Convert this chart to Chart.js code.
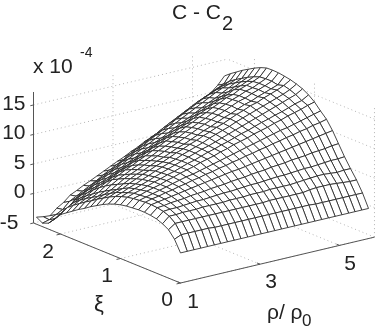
<!DOCTYPE html>
<html><head><meta charset="utf-8">
<style>html,body{margin:0;padding:0;background:#fff}canvas{display:block}</style>
<script src="https://cdn.jsdelivr.net/npm/chart.js@4"></script></head>
<body><canvas id="c" width="382" height="330"></canvas>
<script>
const rhoValues=[1,1.17,1.34,1.51,1.68,1.85,2.01,2.18,2.35,2.52,2.69,2.86,3.03,3.2,3.37,3.54,3.7,3.87,4.04,4.21,4.38,4.55,4.72,4.89,5.06,5.23,5.39,5.56,5.73];
const xiValues=[0,.1,.2,.3,.4,.5,.6,.7,.8,.9,1,1.1,1.2,1.3,1.4,1.5,1.6,1.7,1.8,1.9,2,2.1,2.2,2.3,2.4];
const zRows=[
[.1,.1,.1,.1,.1,.1,.1,.1,.1,.1,.1,.1,.1,.1,.1,.1,.1,.1,.1,.1,.1,.1,.1,.1,.1,.1,.1,.1,.1],
[2,2.5,2.5,2.5,2.5,2.5,2.4,2.4,2.4,2.4,2.4,2.4,2.4,2.4,2.4,2.4,2.4,2.4,2.4,2.4,2.4,2.3,2.3,2.3,2.3,2.3,2.3,2.3,2.3],
[3.2,4,4,4,4,4,4,4,4,4,4,4,4,4,4,4.1,4.1,4.1,4.1,4.1,4.1,4.3,4.4,4.4,4.4,4.3,4.2,4.1,4.1],
[3.8,4.8,4.8,4.9,4.9,4.9,5,5,5,5,5.1,5.1,5.1,5.2,5.2,5.2,5.3,5.3,5.3,5.3,5.4,5.5,5.6,5.7,5.7,5.6,5.5,5.6,5.6],
[4.2,5.2,5.3,5.3,5.4,5.5,5.6,5.6,5.7,5.8,5.9,5.9,6,6.1,6.2,6.2,6.3,6.4,6.5,6.5,6.6,6.7,6.8,6.8,6.9,7,7.1,7.1,7.2],
[4.4,5.4,5.5,5.7,5.8,5.9,6.1,6.2,6.3,6.5,6.6,6.7,6.9,7,7.1,7.3,7.4,7.5,7.7,7.8,7.9,8.1,8.2,8.3,8.5,8.6,8.7,8.9,9],
[4.5,5.5,5.7,5.9,6.1,6.3,6.5,6.7,6.9,7.1,7.3,7.5,7.7,7.9,8,8.2,8.4,8.6,8.8,9,9.2,9.4,9.6,9.8,10,10.2,10.4,10.6,10.8],
[4.5,5.5,5.8,6,6.3,6.5,6.8,7,7.3,7.5,7.8,8,8.3,8.5,8.8,9,9.3,9.5,9.8,10,10.3,10.5,10.8,11,11.3,11.5,11.8,12,12.3],
[4.4,5.4,5.7,6,6.3,6.6,6.9,7.2,7.5,7.7,8,8.3,8.6,8.9,9.2,9.5,9.8,10.1,10.4,10.7,11,11.3,11.6,11.8,12.1,12.4,12.7,13,13.3],
[4.3,5.3,5.6,6,6.3,6.6,7,7.3,7.7,8,8.3,8.7,9,9.3,9.7,10,10.4,10.7,11,11.4,11.7,12,12.4,12.7,13.1,13.4,13.7,14.1,14.4],
[4.1,5.1,5.5,5.8,6.2,6.6,6.9,7.3,7.6,8,8.4,8.7,9.1,9.5,9.8,10.2,10.5,10.9,11.3,11.6,12,12.4,12.7,13.1,13.4,13.8,14.2,14.5,15.2],
[3.8,4.8,5.2,5.6,6,6.4,6.8,7.2,7.6,8,8.4,8.8,9.2,9.6,9.9,10.3,10.7,11.1,11.5,11.9,12.3,12.7,13.1,13.5,13.9,14.3,14.7,15.1,15.8],
[3.4,4.4,4.8,5.3,5.7,6.2,6.6,7.1,7.5,7.9,8.3,8.8,9.2,9.6,10,10.5,10.9,11.3,11.7,12.2,12.6,13,13.4,13.8,14.2,14.6,15,15.5,16.2],
[2.9,3.9,4.4,4.8,5.4,5.9,6.4,6.8,7.3,7.7,8.2,8.7,9.1,9.6,10,10.5,10.9,11.4,11.8,12.3,12.8,13.2,13.7,14,14.5,14.9,15.3,15.8,16.5],
[2.3,3.3,3.8,4.2,4.9,5.5,6,6.4,6.9,7.4,7.8,8.3,8.8,9.2,9.7,10.2,10.7,11.1,11.6,12.1,12.5,13,13.5,13.8,14.3,14.7,15.1,15.5,16.7],
[1.7,2.7,3.2,3.7,4.4,5.1,5.6,6.1,6.6,7.1,7.6,8.1,8.6,9.1,9.6,10.1,10.6,11.1,11.6,12.1,12.6,13.1,13.6,13.9,14.4,14.8,15.2,15.7,16.85],
[1,2,2.5,3.1,3.9,4.6,5.1,5.7,6.2,6.7,7.2,7.8,8.3,8.8,9.3,9.9,10.4,10.9,11.4,12,12.5,13,13.5,13.9,14.4,14.7,15.2,15.7,16.9],
[.4,1.4,1.9,2.5,3.3,4.1,4.6,5.2,5.7,6.3,6.8,7.4,7.9,8.5,9,9.5,10.1,10.6,11.2,11.7,12.3,12.8,13.4,13.7,14.3,14.7,15.1,15.6,16.85],
[-.3,.7,1.3,1.8,2.6,3.25,3.85,4.45,4.95,5.55,6.05,6.65,7.25,7.75,8.35,8.85,9.45,9.95,10.55,11.15,11.65,12.25,12.75,13.2,13.8,14.2,14.7,15.2,16.5],
[-1,0,.6,1.1,1.8,2.4,2.9,3.5,4.1,4.6,5.2,5.8,6.3,6.9,7.5,8,8.6,9.2,9.7,10.3,10.9,11.4,12,12.5,13,13.6,14.2,14.7,16],
[-1.7,-.8,-.2,.3,.9,1.5,2.1,2.6,3.2,3.8,4.4,4.9,5.5,6.1,6.7,7.2,7.8,8.4,9,9.5,10.1,10.7,11.3,11.8,12.4,13,13.6,14.1,15.4],
[-2.9,-2.1,-1.5,-.5,.1,.7,1.3,1.9,2.5,3.1,3.7,4.3,4.9,5.5,6.1,6.7,7.3,7.9,8.5,9.1,9.7,10.3,10.9,11.5,12.1,12.6,13,13.5,14.8],
[-4,-3.5,-2.9,-2.2,-.9,-.3,.3,1,1.6,2.2,2.8,3.5,4.1,4.7,5.3,6,6.6,7.2,7.8,8.5,9.1,9.7,10.3,10.9,11.4,11.9,12.3,12.8,14.1],
[-4.4,-4.1,-3.5,-2.9,-1.8,-1.2,-.6,0,.6,1.3,1.9,2.5,3.1,3.8,4.4,5,5.6,6.2,6.9,7.5,8.1,8.7,9.3,9.9,10.4,10.9,11.4,11.9,13.4],
[-3.8,-4,-4.1,-3.1,-2.4,-1.4,-.9,-.3,.2,.75,1.3,1.85,2.4,2.9,3.5,4,4.6,5.1,5.6,6.1,6.55,7.05,7.5,8,8.7,9.5,10.3,11.3,12.6]
];
const zTicks=[-5,0,5,10,15];
const xiTicks=[0,1,2];
const rhoTicks=[1,3,5];
const rhoRange=[1,5.88], xiRange=[0,2.45], zRange=[-5,17.2];

const project=(rho,xi,z)=>({
  x:180.5+39.75*(rho-1)-60*xi,
  y:283-9.4*(rho-1)-24.5*xi-5.9*(z+5)
});
const base={type:'scatter',showLine:true,pointRadius:0,pointHoverRadius:0,clip:false,tension:0};
const axisStyle={...base,borderColor:'#555',borderWidth:1,fill:false};
const gridStyle={...base,borderColor:'#b4b4b4',borderWidth:1,borderDash:[1,3],fill:false};
const meshStyle={...base,borderColor:'#262626',borderWidth:.85,backgroundColor:'#fff',fill:'shape'};
const ds=[];
const seg=(st,a,b)=>ds.push({...st,data:[project(...a),project(...b)]});
const [r0,r1]=rhoRange,[x0,x1]=xiRange,[zb,zt]=zRange;
seg(axisStyle,[r0,x1,zb],[r0,x1,zt]);
seg(axisStyle,[r0,x1,zb],[r0,x0,zb]);
seg(axisStyle,[r0,x0,zb],[r1,x0,zb]);
zTicks.forEach(z=>seg(axisStyle,[r0,x1,z],[r0-.08,x1,z]));
xiTicks.forEach(x=>seg(axisStyle,[r0,x,zb],[r0-.1,x,zb]));
rhoTicks.forEach(r=>seg(axisStyle,[r,x0,zb],[r,x0+.05,zb]));
for(let j=0;j<xiValues.length-1;j++)for(let i=0;i<rhoValues.length-1;i++){
  const p=(a,b)=>project(rhoValues[a],xiValues[b],zRows[b][a]);
  ds.push({...meshStyle,data:[p(i,j),p(i+1,j),p(i+1,j+1),p(i,j+1),p(i,j)]});
}
zTicks.forEach(z=>{seg(gridStyle,[r0,x1,z],[r1,x1,z]);seg(gridStyle,[r1,x0,z],[r1,x1,z]);});
rhoTicks.forEach(r=>{seg(gridStyle,[r,x0,zb],[r,x1,zb]);seg(gridStyle,[r,x1,zb],[r,x1,zt]);});
xiTicks.forEach(x=>{seg(gridStyle,[r0,x,zb],[r1,x,zb]);seg(gridStyle,[r1,x,zb],[r1,x,zt]);});

const F='Liberation Sans, Arial, sans-serif';
const labels=[
 {t:'C - C',x:172,y:13,s:21,a:'left'},{t:'2',x:222,y:24,s:20,a:'left'},
 {t:'x 10',x:33,y:67,s:21,a:'left'},{t:'-4',x:80,y:53,s:14,a:'left'},
 {t:'15',x:25.5,y:104,s:21,a:'right'},{t:'10',x:25.5,y:133,s:21,a:'right'},{t:'5',x:25.5,y:163,s:21,a:'right'},
 {t:'0',x:25.5,y:192,s:21,a:'right'},{t:'-5',x:18.5,y:223,s:21,a:'right'},
 {t:'2',x:48,y:252,s:21,a:'center'},{t:'1',x:107,y:276,s:21,a:'center'},{t:'0',x:167,y:300,s:21,a:'center'},
 {t:'ξ',x:99,y:305,s:22,a:'center'},
 {t:'1',x:193,y:302,s:21,a:'center'},{t:'3',x:271,y:282,s:21,a:'center'},{t:'5',x:350,y:264,s:21,a:'center'},
 {t:'ρ/ ρ',x:267,y:313,s:21,a:'left'},{t:'0',x:302,y:321,s:17,a:'left'}
];
const textPlugin={id:'texts',afterDraw(c){
  const g=c.ctx,sx=c.scales.x,sy=c.scales.y;
  g.save();g.fillStyle='#222';g.textBaseline='middle';
  labels.forEach(l=>{g.font=l.s+'px '+F;g.textAlign=l.a;g.fillText(l.t,sx.getPixelForValue(l.x),sy.getPixelForValue(l.y));});
  g.restore();
}};
new Chart(document.getElementById('c'),{
  type:'scatter',data:{datasets:ds},plugins:[textPlugin],
  options:{responsive:false,animation:false,devicePixelRatio:1,events:[],
    layout:{padding:0},
    plugins:{legend:{display:false},tooltip:{enabled:false},title:{display:false}},
    scales:{x:{type:'linear',display:false,min:0,max:382},y:{type:'linear',display:false,min:0,max:330,reverse:true}}}
});
</script></body></html>
